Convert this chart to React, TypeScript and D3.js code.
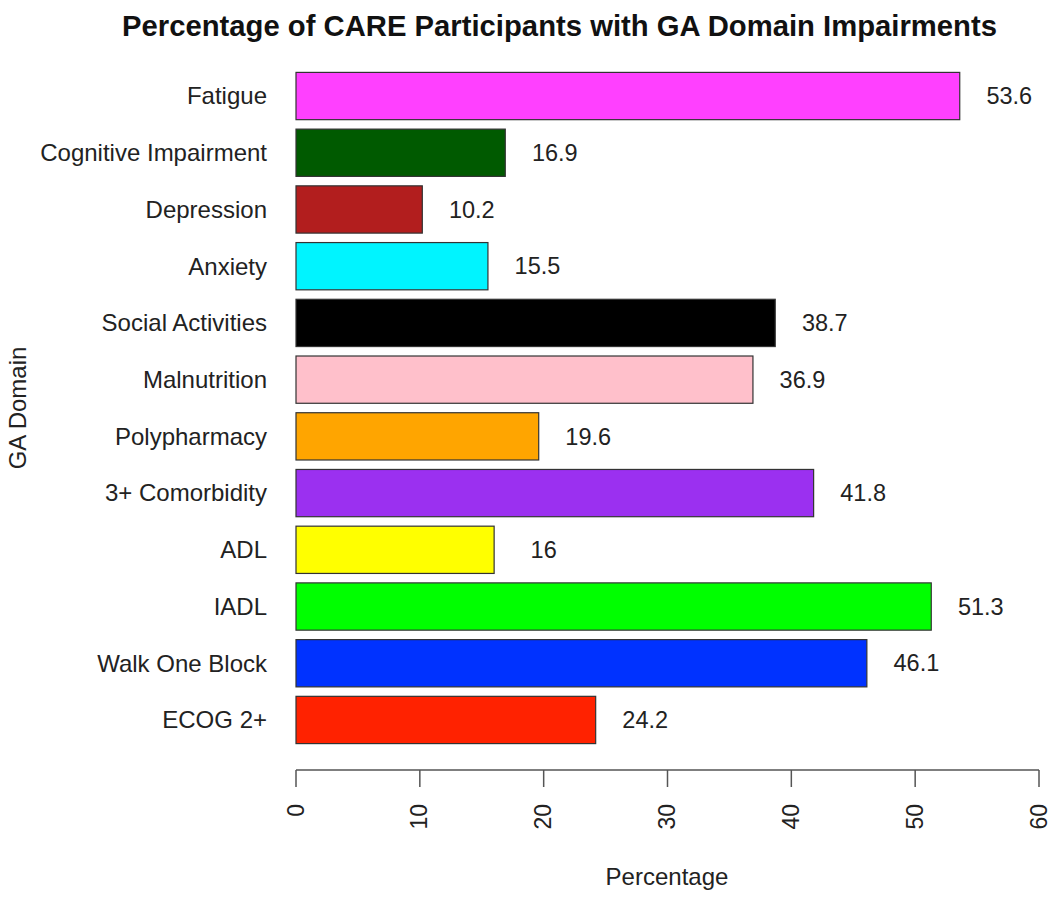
import React from "react";
import * as d3 from "d3";

const categories = [
  "Fatigue",
  "Cognitive Impairment",
  "Depression",
  "Anxiety",
  "Social Activities",
  "Malnutrition",
  "Polypharmacy",
  "3+ Comorbidity",
  "ADL",
  "IADL",
  "Walk One Block",
  "ECOG 2+",
];
const values = [53.6, 16.9, 10.2, 15.5, 38.7, 36.9, 19.6, 41.8, 16, 51.3, 46.1, 24.2];
const valueLabels = ["53.6", "16.9", "10.2", "15.5", "38.7", "36.9", "19.6", "41.8", "16", "51.3", "46.1", "24.2"];
const colors = [
  "#ff40ff",
  "#005a00",
  "#b21e1e",
  "#00f4ff",
  "#000000",
  "#ffc0cb",
  "#ffa500",
  "#9b30f0",
  "#ffff00",
  "#00ff00",
  "#0032ff",
  "#ff2200",
];
const xTicks = [0, 10, 20, 30, 40, 50, 60];

export default function App() {
  const W = 1050;
  const H = 900;
  const font = "'Liberation Sans', Arial, sans-serif";
  const x = d3.scaleLinear().domain([0, 60]).range([296, 1039]);
  const y = d3
    .scaleBand<string>()
    .domain(categories)
    .range([72.4, 743.6])
    .paddingInner(0.1667)
    .paddingOuter(0);
  const bw = y.bandwidth();
  const axisY = 770;
  const textColor = "#222";

  return (
    <svg
      width={W}
      height={H}
      style={{ position: "absolute", left: 0, top: 0, background: "#fff" }}
      fontFamily={font}
    >
      <rect x={0} y={0} width={W} height={H} fill="#fff" />
      <text
        x={122}
        y={36}
        textAnchor="start"
        fontSize={30}
        fontWeight="bold"
        fill="#111"
        textLength={875}
        lengthAdjust="spacingAndGlyphs"
      >
        Percentage of CARE Participants with GA Domain Impairments
      </text>

      {categories.map((c, i) => {
        const yy = y(c) as number;
        return (
          <g key={c}>
            <rect
              x={x(0)}
              y={yy}
              width={x(values[i]) - x(0)}
              height={bw}
              fill={colors[i]}
              stroke="#333"
              strokeWidth={1.2}
            />
            <text
              x={267}
              y={yy + bw / 2}
              dy="0.35em"
              textAnchor="end"
              fontSize={24}
              fill={textColor}
            >
              {c}
            </text>
            <text
              x={x(values[i] + 4)}
              y={yy + bw / 2}
              dy="0.35em"
              textAnchor="middle"
              fontSize={23.5}
              fill={textColor}
            >
              {valueLabels[i]}
            </text>
          </g>
        );
      })}

      <line x1={x(0)} x2={x(60)} y1={axisY} y2={axisY} stroke="#555" strokeWidth={1.5} />
      {xTicks.map((t) => (
        <g key={t}>
          <line x1={x(t)} x2={x(t)} y1={axisY} y2={axisY + 17} stroke="#555" strokeWidth={1.5} />
          <text
            transform={`translate(${x(t)},804) rotate(-90)`}
            dy="0.33em"
            textAnchor="end"
            fontSize={23}
            fill={textColor}
          >
            {t}
          </text>
        </g>
      ))}

      <text x={667} y={885} textAnchor="middle" fontSize={24} fill={textColor}>
        Percentage
      </text>
      <text
        transform={`translate(18,408) rotate(-90)`}
        dy="0.35em"
        textAnchor="middle"
        fontSize={24}
        fill={textColor}
      >
        GA Domain
      </text>
    </svg>
  );
}
